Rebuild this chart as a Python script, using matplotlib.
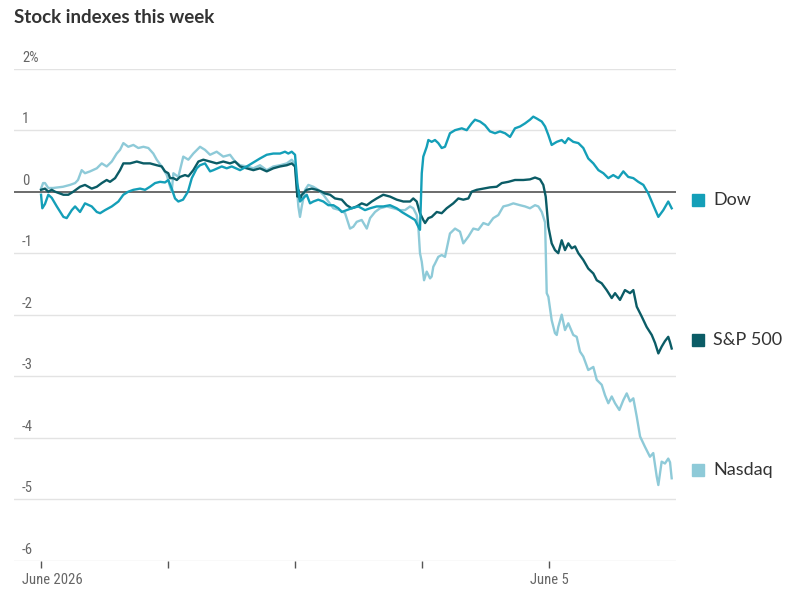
"""
Stock indexes this week: intraday % change for Dow, S&P 500 and Nasdaq.

Output:
    out.png
"""

import matplotlib
matplotlib.use("Agg")
import matplotlib.pyplot as plt
import matplotlib.transforms as mtransforms
from matplotlib import font_manager


TITLE = "Stock indexes this week"
Y_TICKS = [-6, -5, -4, -3, -2, -1, 0, 1, 2]
Y_TICK_LABELS = ["-6", "-5", "-4", "-3", "-2", "-1", "0", "1", "2%"]
X_TICKS = [0, 1, 2, 3, 4]
X_TICK_LABELS = ["June 2026", "", "", "", "June 5"]

# time in trading days since the open on Monday, value in % change
DOW_T = [
    0.000, 0.010, 0.031, 0.057, 0.084, 0.124, 0.176, 0.202, 0.242, 0.268,
    0.307, 0.346, 0.399, 0.439, 0.465, 0.504, 0.557, 0.609, 0.648, 0.687,
    0.727, 0.780, 0.819, 0.858, 0.898, 0.937, 0.976, 1.002, 1.029, 1.055,
    1.081, 1.118, 1.157, 1.187, 1.226, 1.252, 1.291, 1.331, 1.357, 1.423,
    1.462, 1.502, 1.567, 1.620, 1.685, 1.724, 1.777, 1.829, 1.882, 1.921,
    1.947, 1.974, 2.000, 2.018, 2.039, 2.063, 2.092, 2.118, 2.144, 2.183,
    2.223, 2.262, 2.302, 2.341, 2.368, 2.407, 2.446, 2.498, 2.551, 2.591,
    2.643, 2.695, 2.748, 2.801, 2.840, 2.880, 2.919, 2.945, 2.971, 2.984,
    2.998, 3.010, 3.037, 3.050, 3.076, 3.102, 3.128, 3.155, 3.181, 3.220,
    3.260, 3.313, 3.352, 3.391, 3.417, 3.457, 3.496, 3.535, 3.575, 3.614,
    3.654, 3.693, 3.732, 3.772, 3.811, 3.850, 3.876, 3.903, 3.943, 3.969,
    3.995, 4.021, 4.061, 4.100, 4.126, 4.152, 4.191, 4.231, 4.270, 4.309,
    4.349, 4.389, 4.428, 4.467, 4.506, 4.546, 4.585, 4.624, 4.664, 4.703,
    4.743, 4.782, 4.821, 4.861, 4.900, 4.939, 4.966,
]
DOW_V = [
    -0.05, -0.27, -0.20, -0.05, -0.10, -0.24, -0.41, -0.43, -0.30, -0.24,
    -0.33, -0.19, -0.24, -0.33, -0.35, -0.30, -0.24, -0.16, -0.05, 0.00,
    0.03, 0.05, 0.03, 0.08, 0.14, 0.16, 0.15, 0.19, 0.05, -0.11,
    -0.16, -0.13, 0.00, 0.22, 0.38, 0.43, 0.46, 0.33, 0.35, 0.41,
    0.38, 0.41, 0.35, 0.41, 0.49, 0.54, 0.60, 0.62, 0.62, 0.65,
    0.62, 0.65, 0.60, 0.15, -0.16, -0.11, -0.05, -0.19, -0.16, -0.13,
    -0.16, -0.22, -0.22, -0.27, -0.33, -0.30, -0.27, -0.24, -0.30, -0.27,
    -0.24, -0.24, -0.22, -0.27, -0.33, -0.38, -0.43, -0.46, -0.57, -0.62,
    0.30, 0.57, 0.73, 0.84, 0.81, 0.84, 0.79, 0.71, 0.73, 0.95,
    1.00, 1.03, 1.00, 1.11, 1.17, 1.14, 1.08, 0.98, 0.95, 0.98,
    0.95, 0.89, 1.03, 1.06, 1.11, 1.17, 1.22, 1.19, 1.14, 1.06,
    0.92, 0.76, 0.81, 0.84, 0.79, 0.87, 0.81, 0.79, 0.71, 0.54,
    0.46, 0.35, 0.30, 0.22, 0.27, 0.22, 0.33, 0.24, 0.22, 0.16,
    0.11, -0.03, -0.22, -0.41, -0.30, -0.16, -0.27,
]

SP_T = [
    0.000, 0.031, 0.057, 0.084, 0.110, 0.150, 0.176, 0.215, 0.254, 0.307,
    0.346, 0.399, 0.439, 0.478, 0.517, 0.543, 0.583, 0.622, 0.648, 0.701,
    0.754, 0.806, 0.858, 0.911, 0.950, 0.976, 1.002, 1.016, 1.042, 1.069,
    1.094, 1.134, 1.160, 1.199, 1.239, 1.278, 1.331, 1.383, 1.435, 1.488,
    1.528, 1.567, 1.620, 1.672, 1.724, 1.777, 1.829, 1.882, 1.935, 1.974,
    2.000, 2.018, 2.026, 2.039, 2.053, 2.092, 2.131, 2.171, 2.210, 2.236,
    2.276, 2.315, 2.368, 2.407, 2.446, 2.486, 2.525, 2.565, 2.604, 2.643,
    2.695, 2.748, 2.801, 2.853, 2.906, 2.931, 2.958, 2.984, 3.010, 3.024,
    3.050, 3.076, 3.116, 3.155, 3.194, 3.246, 3.286, 3.325, 3.365, 3.391,
    3.431, 3.483, 3.535, 3.588, 3.628, 3.680, 3.732, 3.798, 3.850, 3.890,
    3.929, 3.955, 3.974, 3.995, 4.021, 4.047, 4.073, 4.100, 4.126, 4.152,
    4.179, 4.205, 4.231, 4.270, 4.309, 4.349, 4.376, 4.415, 4.454, 4.494,
    4.520, 4.559, 4.598, 4.638, 4.664, 4.691, 4.730, 4.769, 4.809, 4.835,
    4.861, 4.887, 4.913, 4.939, 4.953, 4.966,
]
SP_V = [
    0.03, 0.05, 0.00, 0.03, 0.00, -0.03, -0.05, -0.05, 0.00, 0.08,
    0.11, 0.05, 0.08, 0.14, 0.19, 0.16, 0.22, 0.35, 0.46, 0.46,
    0.49, 0.46, 0.46, 0.43, 0.41, 0.33, 0.30, 0.22, 0.22, 0.19,
    0.24, 0.27, 0.25, 0.35, 0.49, 0.52, 0.49, 0.46, 0.49, 0.46,
    0.49, 0.41, 0.38, 0.35, 0.38, 0.33, 0.38, 0.41, 0.43, 0.46,
    0.41, -0.08, 0.03, -0.13, -0.05, 0.03, 0.05, 0.03, 0.00, -0.03,
    -0.05, -0.11, -0.13, -0.22, -0.27, -0.24, -0.19, -0.22, -0.16, -0.11,
    -0.05, -0.08, -0.13, -0.16, -0.16, -0.11, -0.16, -0.35, -0.46, -0.51,
    -0.43, -0.41, -0.33, -0.35, -0.27, -0.19, -0.11, -0.13, -0.11, 0.00,
    0.03, 0.05, 0.07, 0.08, 0.14, 0.16, 0.19, 0.19, 0.20, 0.23,
    0.20, 0.11, -0.08, -0.57, -0.84, -0.95, -1.00, -0.79, -0.95, -0.84,
    -0.92, -0.89, -1.00, -1.11, -1.25, -1.33, -1.44, -1.49, -1.60, -1.73,
    -1.65, -1.76, -1.60, -1.65, -1.60, -1.87, -2.03, -2.20, -2.33, -2.46,
    -2.63, -2.52, -2.43, -2.36, -2.45, -2.55,
]

NASDAQ_T = [
    0.000, 0.016, 0.031, 0.057, 0.095, 0.173, 0.228, 0.268, 0.291, 0.320,
    0.346, 0.386, 0.439, 0.478, 0.517, 0.557, 0.596, 0.622, 0.648, 0.687,
    0.727, 0.766, 0.806, 0.845, 0.884, 0.911, 0.950, 0.990, 1.016, 1.029,
    1.042, 1.081, 1.120, 1.160, 1.199, 1.252, 1.291, 1.331, 1.383, 1.435,
    1.488, 1.528, 1.567, 1.620, 1.672, 1.724, 1.777, 1.829, 1.882, 1.935,
    1.974, 2.000, 2.013, 2.026, 2.039, 2.053, 2.079, 2.105, 2.144, 2.183,
    2.223, 2.262, 2.302, 2.354, 2.394, 2.433, 2.459, 2.486, 2.525, 2.565,
    2.591, 2.630, 2.669, 2.722, 2.774, 2.827, 2.866, 2.906, 2.931, 2.958,
    2.971, 2.984, 2.998, 3.016, 3.037, 3.063, 3.076, 3.089, 3.102, 3.128,
    3.155, 3.181, 3.220, 3.260, 3.299, 3.325, 3.365, 3.404, 3.443, 3.483,
    3.522, 3.561, 3.601, 3.640, 3.680, 3.719, 3.772, 3.811, 3.850, 3.890,
    3.916, 3.943, 3.969, 3.982, 3.995, 4.021, 4.047, 4.061, 4.073, 4.100,
    4.126, 4.152, 4.191, 4.218, 4.244, 4.270, 4.309, 4.349, 4.376, 4.415,
    4.441, 4.467, 4.494, 4.520, 4.554, 4.585, 4.612, 4.638, 4.664, 4.691,
    4.717, 4.756, 4.795, 4.821, 4.848, 4.861, 4.887, 4.913, 4.939, 4.953,
    4.966,
]
NASDAQ_V = [
    0.05, 0.14, 0.14, 0.06, 0.06, 0.08, 0.11, 0.14, 0.19, 0.35,
    0.30, 0.33, 0.38, 0.46, 0.41, 0.49, 0.62, 0.68, 0.79, 0.73,
    0.76, 0.71, 0.73, 0.71, 0.62, 0.52, 0.41, 0.27, 0.08, 0.00,
    0.30, 0.24, 0.57, 0.52, 0.62, 0.73, 0.68, 0.60, 0.65, 0.57,
    0.60, 0.49, 0.43, 0.41, 0.38, 0.43, 0.35, 0.41, 0.43, 0.46,
    0.52, 0.45, 0.13, -0.24, -0.41, -0.24, 0.03, 0.11, 0.08, 0.03,
    -0.05, -0.16, -0.27, -0.30, -0.35, -0.60, -0.57, -0.49, -0.46, -0.60,
    -0.43, -0.33, -0.27, -0.24, -0.27, -0.30, -0.30, -0.24, -0.27, -0.38,
    -0.57, -1.00, -1.14, -1.44, -1.30, -1.41, -1.38, -1.22, -1.17, -1.06,
    -1.03, -1.06, -0.68, -0.60, -0.65, -0.84, -0.73, -0.60, -0.62, -0.51,
    -0.54, -0.43, -0.38, -0.24, -0.22, -0.19, -0.22, -0.24, -0.27, -0.22,
    -0.24, -0.33, -0.50, -1.65, -1.71, -2.09, -2.30, -2.33, -2.20, -2.00,
    -2.25, -2.14, -2.33, -2.36, -2.60, -2.68, -2.90, -2.85, -3.06, -3.14,
    -3.31, -3.44, -3.33, -3.44, -3.55, -3.39, -3.28, -3.41, -3.36, -3.66,
    -3.98, -4.15, -4.31, -4.25, -4.63, -4.77, -4.39, -4.42, -4.34, -4.40,
    -4.66,
]

DOW_COLOR = "#149fb8"
SP_COLOR = "#0b5c66"
NASDAQ_COLOR = "#8ecad8"
TEXT_COLOR = "#333333"
TICK_COLOR = "#666666"
GRID_COLOR = "#e3e3e3"
ZERO_COLOR = "#6b6b6b"


def pick_font(candidates: list[str]) -> str:
    for name in candidates:
        try:
            font_manager.findfont(name, fallback_to_default=False)
            return name
        except ValueError:
            continue
    return "DejaVu Sans"


def main() -> None:
    narrow = pick_font(["Liberation Sans Narrow", "Roboto Condensed", "Lato"])
    body = pick_font(["Lato", "Open Sans", "DejaVu Sans"])

    fig = plt.figure(figsize=(8.0, 5.92), dpi=100)
    ax = fig.add_axes([0.0175, 0.0529, 0.8275, 0.8311])
    ax.set_xlim(-0.213, 5.0)
    ax.set_ylim(-6, 2)

    for spine in ax.spines.values():
        spine.set_visible(False)

    # grid lines and zero line
    for value in Y_TICKS:
        if value == 0:
            ax.axhline(value, color=ZERO_COLOR, linewidth=1.4, zorder=2)
        else:
            ax.axhline(value, color=GRID_COLOR, linewidth=1.0, zorder=1)

    ax.set_yticks([])
    for value, label in zip(Y_TICKS, Y_TICK_LABELS):
        ax.annotate(
            label,
            xy=(0.012, value),
            xycoords=("axes fraction", "data"),
            xytext=(0, 3),
            textcoords="offset points",
            ha="left",
            va="bottom",
            fontsize=10.5,
            color=TICK_COLOR,
            family=narrow,
        )

    ax.set_xticks(X_TICKS)
    ax.set_xticklabels(X_TICK_LABELS, family=narrow, fontsize=10.5, color=TICK_COLOR)
    ax.tick_params(axis="x", length=5, width=1.0, color="#555555", pad=4)
    first = ax.get_xticklabels()[0]
    first.set_ha("left")
    first.set_transform(first.get_transform() + mtransforms.ScaledTranslation(-19 / 100, 0, fig.dpi_scale_trans))

    series = [
        ("Nasdaq", NASDAQ_T, NASDAQ_V, NASDAQ_COLOR),
        ("S&P 500", SP_T, SP_V, SP_COLOR),
        ("Dow", DOW_T, DOW_V, DOW_COLOR),
    ]
    for name, times, values, color in series:
        ax.plot(times, values, color=color, linewidth=1.7, solid_joinstyle="round", zorder=3)

    # end labels with colored squares
    blend = mtransforms.blended_transform_factory(ax.transAxes, ax.transData)
    for name, times, values, color in series:
        label_y = values[-1] + 0.14
        ax.plot([1.0325], [label_y], marker="s", markersize=9, color=color,
                transform=blend, clip_on=False, linestyle="none")
        ax.text(1.056, label_y, name, transform=blend, ha="left", va="center",
                fontsize=13, color=TEXT_COLOR, family=body, clip_on=False)

    fig.text(0.0175, 0.97, TITLE, ha="left", va="center", fontsize=13.5,
             fontweight="bold", color=TEXT_COLOR, family=body)

    fig.savefig("out.png", dpi=100)
    plt.close(fig)


if __name__ == "__main__":
    main()
